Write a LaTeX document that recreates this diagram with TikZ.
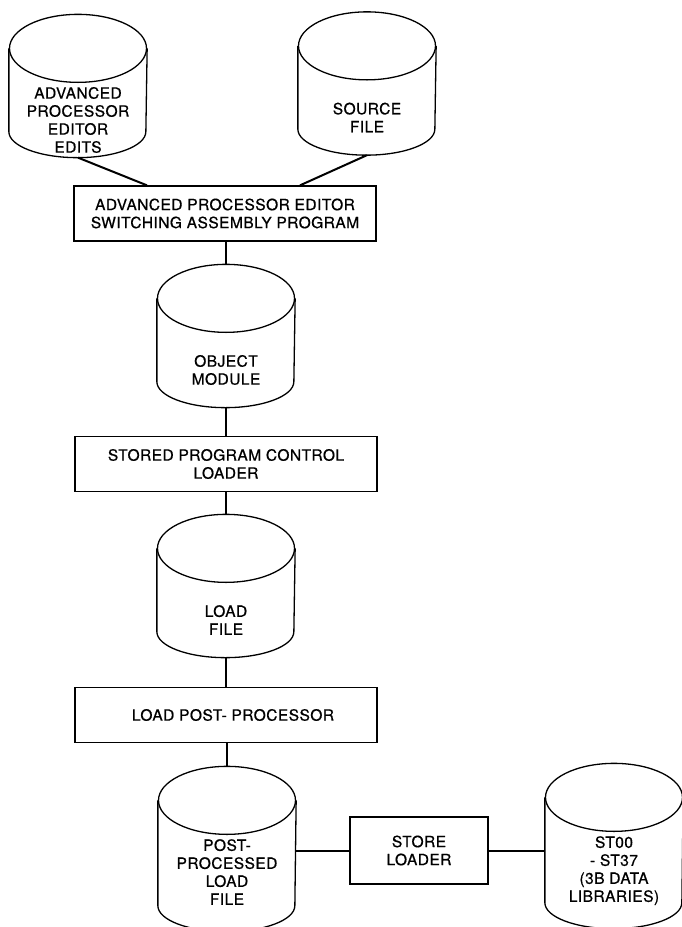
\documentclass[tikz,border=0pt]{standalone}
\usepackage{fontspec}
\setmainfont{TeX Gyre Heros}[LetterSpace=3, FakeBold=0.7]
\newcommand{\dbRX}{68.5pt}
\newcommand{\dbRY}{34pt}
\newcommand{\dbDepth}{26pt}
\newcommand{\drawdb}{%
	\edef\dbname{\tikzlastnode}%
	\draw ([yshift=\dbRY]\dbname.north west) -- ([yshift=\dbDepth]\dbname.south west)
		arc[start angle=180, end angle=360, x radius=\dbRX, y radius=\dbDepth]
		-- ([yshift=\dbRY]\dbname.north east);
	\draw ([yshift=\dbRY]\dbname.north) ellipse[x radius=\dbRX, y radius=\dbRY];
	\coordinate (\dbname-top) at ([yshift=2*\dbRY]\dbname.north);%
}
\tikzstyle{flow}=[x=1pt, y=1pt, line width=1.3pt, font=\fontsize{15.5}{18}\selectfont]
\tikzstyle{db}=[rectangle, inner sep=0pt, minimum width=137pt, minimum height=74pt, align=center, append after command={\pgfextra{\drawdb}}]
\tikzstyle{tall}=[minimum height=96pt, text depth=22pt]
\tikzstyle{prog}=[rectangle, draw, minimum width=302pt, minimum height=55pt, inner sep=2pt, align=center]
\tikzstyle{link}=[line width=2pt]

\begin{document}
\begin{tikzpicture}[flow]
		\useasboundingbox (0,0) rectangle (682,-927);
		%The inputs
		\node[db] (edits) at (78,-120) {ADVANCED\\PROCESSOR\\EDITOR\\EDITS};
		\node[db] (src) at (367,-117.5) {SOURCE\\FILE};
		
		%The assembler
		\node[prog] (apesap) at (225,-213.5) {ADVANCED PROCESSOR EDITOR\\SWITCHING ASSEMBLY PROGRAM};
		\draw[link] (edits.south) -- ([xshift=-78pt]apesap.north);
		\draw[link] (src.south) -- ([xshift=75pt]apesap.north);
		
		%Object module and loader
		\node[db] (obj) at (226,-370) {OBJECT\\MODULE};
		\node[prog] (spcl) at (226,-464) {STORED PROGRAM CONTROL\\LOADER};
		\draw[link] (apesap.south -| obj.south) -- (obj-top);
		\draw[link] (obj.south) -- (spcl.north);
		
		%Load file and post processor
		\node[db] (load) at (226,-620) {LOAD\\FILE};
		\node[prog] (lpp) at (226,-715) {\hspace*{14pt}LOAD POST- PROCESSOR};
		\draw[link] (spcl.south) -- (load-top);
		\draw[link] (load.south) -- (lpp.north);
		
		%The last row
		\node[db, tall] (ppl) at (227,-883) {POST-\\PROCESSED\\LOAD\\FILE};
		\node[prog, minimum width=138pt, minimum height=67pt] (store) at (419,-850.5) {STORE\\LOADER};
		\node[db, tall] (lib) at (614,-880) {ST00\\- ST37\\(3B DATA\\LIBRARIES)};
		\draw[link] (lpp.south -| ppl-top) -- (ppl-top);
		\draw[link] (store.west) -- (store.west -| ppl.east);
		\draw[link] (store.east) -- (store.east -| lib.west);
		\end{tikzpicture}
\end{document}
